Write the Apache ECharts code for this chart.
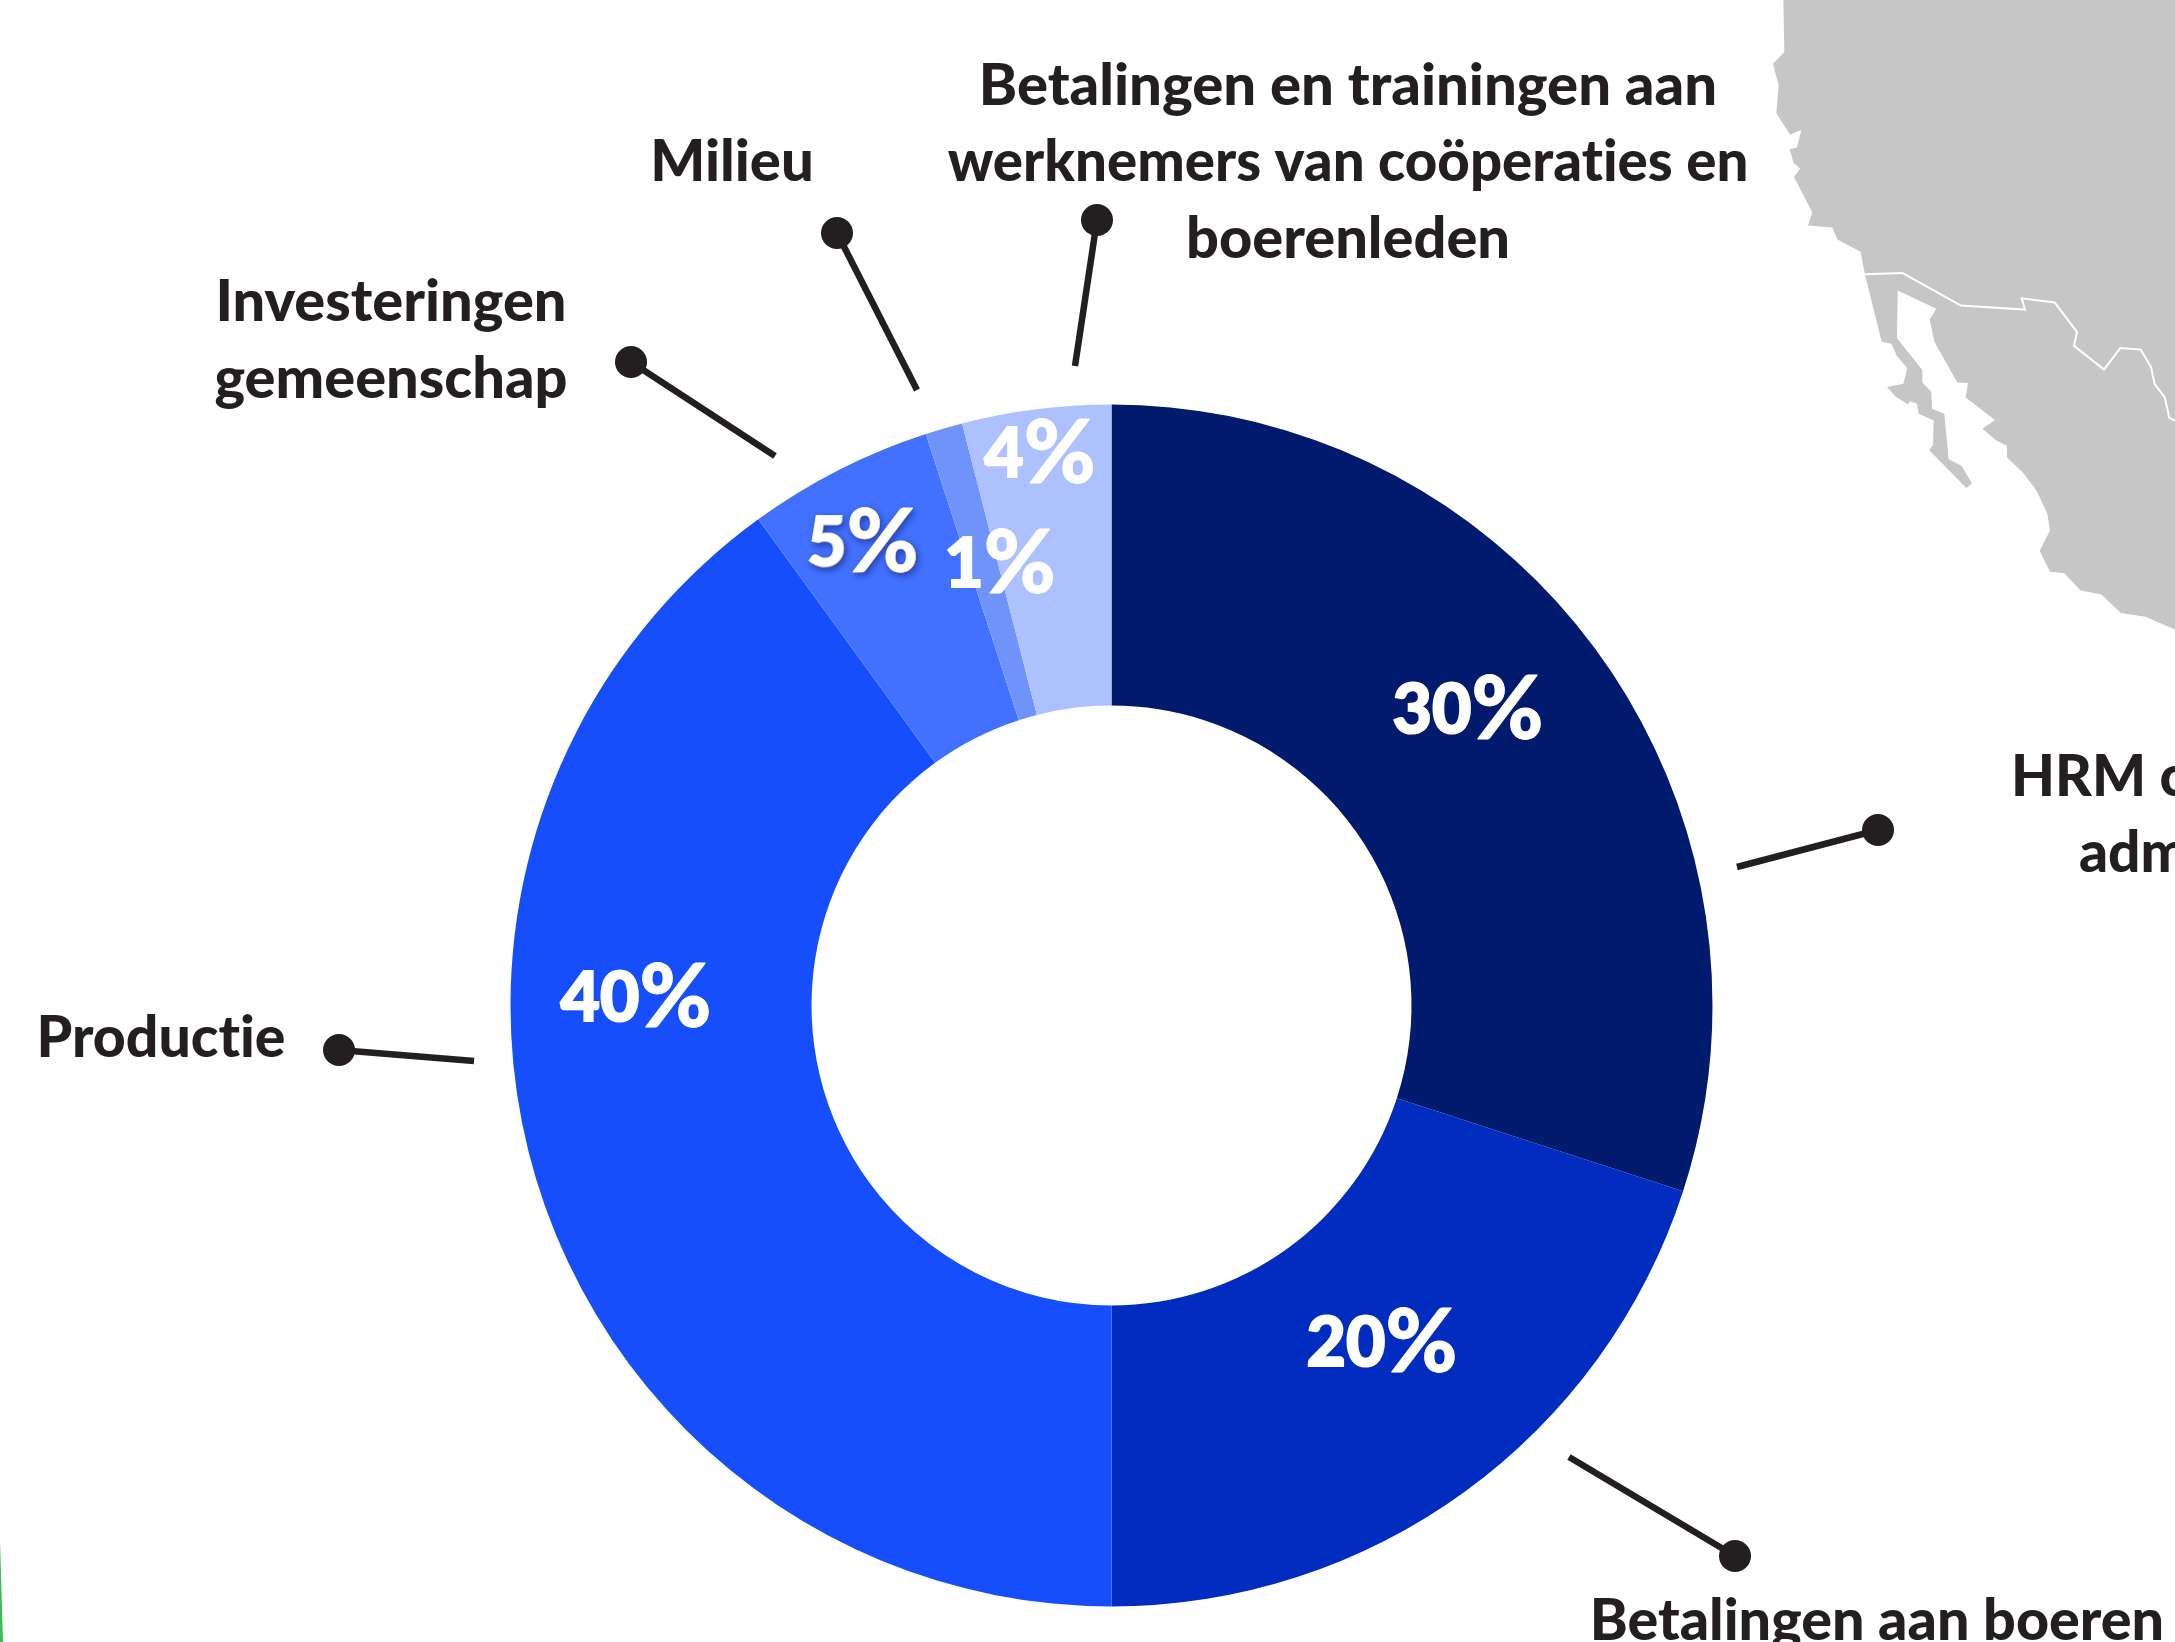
<!DOCTYPE html>
<html><head><meta charset="utf-8">
<style>html,body{margin:0;padding:0;background:#fff}#c{width:2175px;height:1642px}</style>
<script src="https://cdn.jsdelivr.net/npm/echarts@6/dist/echarts.min.js"></script>
</head><body><div id="c"></div>
<script>
const categories = ['HRM en administratie','Betalingen aan boeren','Productie','Investeringen gemeenschap','Milieu','Betalingen en trainingen aan werknemers van coöperaties en boerenleden'];
const values = [30,20,40,5,1,4];
const sliceColors = ['#001a6e','#002dbf','#164efb','#4270ff','#7093fa','#adc0ff'];
const percentPos = [[1468,711],[1382,1344],[636,999],[863,544],[1000,565],[1040,455]];
const ink = '#231f20';
const fontName = 'Lato';
// callout lines: [fromX, fromY, dotX, dotY]
const leaders = [[1075,366,1097,220],[917,390,837,233],[775,456,631,362],[474,1061,339,1050],[1737,867,1878,830],[1569,1457,1735,1556]];
// label lines: [text, x, y, align, horizontal fit]
const textLines = [
 ['Betalingen en trainingen aan',1348,86,'center',1.0],
 ['werknemers van coöperaties en',1348,162,'center',0.972],
 ['boerenleden',1348,239,'center',0.995],
 ['Milieu',732,162,'center',1.0],
 ['Investeringen',391,302,'center',0.995],
 ['gemeenschap',391,379,'center',0.995],
 ['Productie',161,1038,'center',0.985],
 ['HRM c',2011,777,'left',0.98],
 ['adm',2079,853,'left',0.98],
 ['Betalingen aan boeren',1877,1621,'center',0.99]
];
const mapOutline = [[250,0],[253,125],[219,153],[236,205],[229,272],[270,323],[304,312],[291,354],[269,358],[281,391],[301,405],[282,425],[337,510],[324,541],[397,546],[412,575],[482,604],[495,660],[545,820],[574,825],[590,853],[622,883],[610,921],[561,929],[587,952],[624,970],[630,963],[651,969],[656,993],[701,1009],[699,1068],[687,1080],[799,1171],[816,1160],[784,1118],[746,1102],[733,993],[696,981],[694,940],[667,918],[667,888],[591,812],[593,697],[709,741],[689,767],[703,820],[772,918],[804,919],[797,954],[885,1008],[847,1029],[890,1058],[921,1070],[921,1098],[970,1135],[1010,1178],[1042,1233],[1050,1273],[1019,1322],[1050,1372],[1093,1376],[1142,1417],[1204,1427],[1263,1471],[1336,1480],[1425,1511],[1425,0]];
const mapBorder = [[495,658],[607,655],[782,733],[975,743],[965,716],[1064,726],[1131,797],[1122,830],[1212,887],[1261,835],[1322,839],[1353,881],[1364,922],[1394,953],[1408,1003],[1425,1010]];
const toFull = p => [1700+p[0]/3, p[1]/2.4];

// keep "ti" as two letters: the reference font has no such ligature
const nativeFill = CanvasRenderingContext2D.prototype.fillText;
CanvasRenderingContext2D.prototype.fillText = function(){ this.textRendering='optimizeSpeed'; return nativeFill.apply(this, arguments); };

const chart = echarts.init(document.getElementById('c'), null, {renderer:'canvas', width:2175, height:1642});
const graphic = [
 {type:'polygon',z:0,shape:{points:mapOutline.map(toFull)},style:{fill:'#c6c6c6'}},
 {type:'polyline',z:1,shape:{points:mapBorder.map(toFull)},style:{stroke:'#fff',lineWidth:2,fill:null}},
 {type:'polygon',z:1,shape:{points:[[0,1540],[3,1642],[0,1642]]},style:{fill:'#3dbb55'}}
];
leaders.forEach(l=>{
 graphic.push({type:'line',z:5,shape:{x1:l[0],y1:l[1],x2:l[2],y2:l[3]},style:{stroke:ink,lineWidth:6.5}});
 graphic.push({type:'circle',z:6,shape:{cx:l[2],cy:l[3],r:16},style:{fill:ink}});
});
textLines.forEach(t=>{
 graphic.push({type:'text',z:7,x:t[1],y:t[2],scaleX:t[4],style:{text:t[0],x:0,y:0,align:t[3],verticalAlign:'middle',fill:ink,font:'900 58px '+fontName}});
});
const shadow = {textShadowColor:'rgba(0,10,70,.4)',textShadowBlur:6,textShadowOffsetX:2,textShadowOffsetY:3};
const numStyle = {fontFamily:fontName,fontWeight:900,fontSize:68,color:'#fff',textBorderColor:'#fff',textBorderWidth:2};
const pctStyle = {fontFamily:fontName,fontWeight:900,fontSize:87,color:'#fff',textBorderColor:'#fff',textBorderWidth:1};
chart.setOption({
 animation:false,
 backgroundColor:'#ffffff',
 graphic:{elements:graphic},
 series:[{
  type:'pie',
  center:[1111.5,1005.5],
  radius:[300,601],
  startAngle:90,
  clockwise:true,
  avoidLabelOverlap:false,
  silent:true,
  itemStyle:{borderWidth:0},
  labelLine:{show:false},
  label:{show:true,position:'inside',
    formatter:p=> p.dataIndex===3 ? '{ns|'+p.value+'}{ps|%}' : '{n|'+p.value+'}{p|%}',
    rich:{n:numStyle,p:pctStyle,ns:{...numStyle,...shadow},ps:{...pctStyle,...shadow}}},
  labelLayout:p=>({x:percentPos[p.dataIndex][0],y:percentPos[p.dataIndex][1],align:'center',verticalAlign:'middle'}),
  data:categories.map((c,i)=>({name:c,value:values[i],itemStyle:{color:sliceColors[i]}}))
 }]
});
</script></body></html>
